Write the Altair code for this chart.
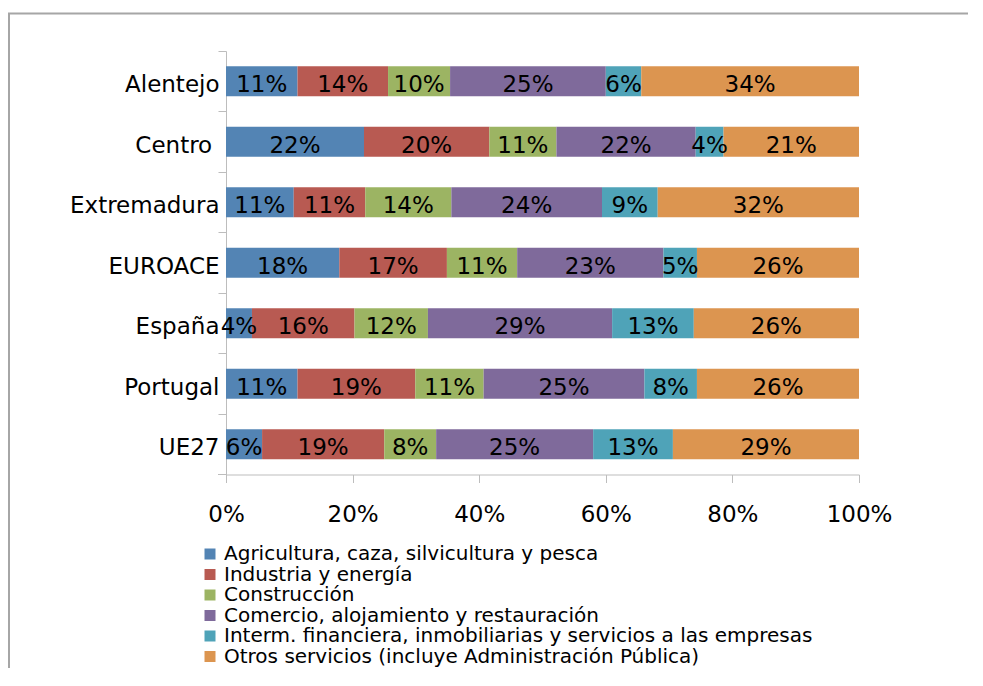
import altair as alt
import pandas as pd

regions = ["Alentejo", "Centro\u00a0\u200b", "Extremadura", "EUROACE", "España", "Portugal", "UE27"]
sectors = [
    "Agricultura, caza, silvicultura y pesca",
    "Industria y energía",
    "Construcción",
    "Comercio, alojamiento y restauración",
    "Interm. financiera, inmobiliarias y servicios a las empresas",
    "Otros servicios (incluye Administración Pública)",
]
agricultura = [11.3, 21.8, 10.7, 17.9, 4.1, 11.3, 5.7]
industria = [14.3, 19.8, 11.3, 17.0, 16.2, 18.6, 19.3]
construccion = [9.8, 10.6, 13.6, 11.1, 11.6, 10.8, 8.2]
comercio = [24.6, 22.0, 23.8, 23.1, 29.1, 25.4, 24.8]
financiera = [5.6, 4.4, 8.8, 5.3, 12.9, 8.3, 12.6]
otros = [34.4, 21.4, 31.8, 25.6, 26.1, 25.6, 29.4]
series = [agricultura, industria, construccion, comercio, financiera, otros]
colors = ["#5384b4", "#b85a52", "#9cb463", "#7f6a9b", "#4fa3b8", "#dc9550"]
x_ticks = [0, 20, 40, 60, 80, 100]

rows = []
for si, (s, vals) in enumerate(zip(sectors, series)):
    for r, v in zip(regions, vals):
        rows.append({"region": r, "sector": s, "order": si, "value": v})
df = pd.DataFrame(rows)

W, H = 633, 423.5
FONT = "DejaVu Sans"
AXIS_COLOR = "#bdbdbd"
FRAME_COLOR = "#a6a6a6"

base = alt.Chart(df).transform_window(
    end="sum(value)",
    groupby=["region"],
    sort=[alt.SortField("order")],
    frame=[None, 0],
).transform_calculate(
    start="datum.end - datum.value",
    mid="datum.end - datum.value / 2",
    label="format(datum.value, '.0f') + '%'",
)

y_enc = alt.Y(
    "region:N",
    sort=regions,
    title=None,
    scale=alt.Scale(paddingInner=0, paddingOuter=0),
    axis=alt.Axis(
        bandPosition=0,
        tickSize=8,
        tickColor=AXIS_COLOR,
        domainColor=AXIS_COLOR,
        labelFont=FONT,
        labelFontSize=23,
        labelColor="black",
        labelPadding=-1,
        labelOffset=4,
        labelLimit=1000,
        grid=False,
    ),
)

bars = base.mark_bar(size=30).encode(
    x=alt.X(
        "start:Q",
        title=None,
        scale=alt.Scale(domain=[0, 100], nice=False),
        axis=alt.Axis(
            values=x_ticks,
            labelExpr="datum.value + '%'",
            tickSize=8,
            tickColor=AXIS_COLOR,
            domainColor=AXIS_COLOR,
            labelFont=FONT,
            labelFontSize=23,
            labelColor="black",
            labelPadding=21,
            labelFlush=False,
            grid=False,
        ),
    ),
    x2="end:Q",
    y=y_enc,
    color=alt.Color(
        "sector:N",
        scale=alt.Scale(domain=sectors, range=colors),
        legend=alt.Legend(
            title=None,
            orient="none",
            legendX=-26,
            legendY=493,
            direction="vertical",
            symbolType="square",
            symbolSize=121,
            symbolStrokeWidth=0,
            labelFont=FONT,
            labelFontSize=20,
            labelColor="black",
            labelOffset=4,
            labelLimit=1000,
            rowPadding=0.5,
            padding=0,
        ),
    ),
)

text = base.mark_text(font=FONT, fontSize=23, color="black", dy=4).encode(
    x="mid:Q",
    y=alt.Y("region:N", sort=regions),
    text="label:N",
)

one = pd.DataFrame({"a": [0]})
frame_left = alt.Chart(one).mark_rule(color=FRAME_COLOR, strokeWidth=2).encode(
    x=alt.value(-217), y=alt.value(-37.5), y2=alt.value(H + 400)
)
frame_top = alt.Chart(one).mark_rule(color=FRAME_COLOR, strokeWidth=2).encode(
    x=alt.value(-218), x2=alt.value(W + 400), y=alt.value(-37.5)
)
bottom_tick = alt.Chart(one).mark_rule(color=AXIS_COLOR, strokeWidth=1).encode(
    x=alt.value(-8), x2=alt.value(0), y=alt.value(H)
)

chart = alt.layer(bars, text, frame_left, frame_top, bottom_tick).properties(
    width=W,
    height=H,
    autosize=alt.AutoSizeParams(type="none"),
    padding={"left": 218, "top": 43, "right": 109, "bottom": 193.5},
    background="white",
).configure_view(stroke=None)

chart.save("out.html", embed_options={"renderer": "svg", "actions": False})
